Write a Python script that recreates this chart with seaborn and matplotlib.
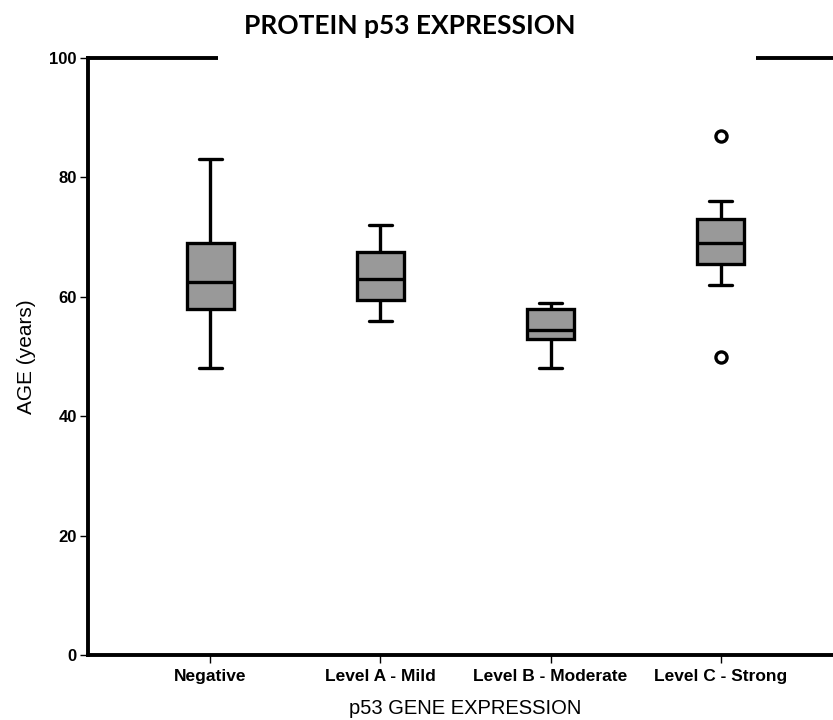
import pandas as pd
import matplotlib
matplotlib.use("Agg")
import matplotlib.pyplot as plt
import seaborn as sns
from matplotlib.patches import Rectangle

# ages per p53 group (chosen so box stats match the picture)
negative = [48, 58, 62.5, 69, 83]
level_a = [56, 59.5, 63, 67.5, 72]
level_b = [48, 53, 54.5, 58, 59]
level_c = [50, 62, 65.5, 67, 69, 71, 73, 76, 87]
groups = ["Negative", "Level A - Mild", "Level B - Moderate", "Level C - Strong"]
yticks = [0, 20, 40, 60, 80, 100]

rows = []
for g, vals in zip(groups, [negative, level_a, level_b, level_c]):
    for v in vals:
        rows.append({"group": g, "age": v})
df = pd.DataFrame(rows)

sns.set_style("white")
plt.rcParams['font.family'] = ['Liberation Sans', 'DejaVu Sans']
plt.rcParams['text.color'] = 'black'
plt.rcParams['axes.labelcolor'] = 'black'
plt.rcParams['xtick.color'] = 'black'
plt.rcParams['ytick.color'] = 'black'

fig = plt.figure(figsize=(8.33, 7.2), dpi=100)
ax = fig.add_axes([88/833, 65/720, (843-88)/833, (655-58)/720])

lw = 2.4
sns.boxplot(data=df, x="group", y="age", order=groups, ax=ax, width=0.28,
            color="#999999", linecolor="black", linewidth=lw, whis=1.5,
            saturation=1, capwidths=0.14,
            flierprops=dict(marker="o", markersize=8, markeredgewidth=2.4,
                            markerfacecolor="white", markeredgecolor="black"),
            medianprops=dict(color="black", linewidth=lw))

ax.set_xlim(-0.72, 3.72)
ax.set_ylim(0, 100)
ax.set_yticks(yticks)
ax.set_yticklabels([str(t) for t in yticks], fontsize=12, fontweight="bold")
ax.set_xticks(range(len(groups)))
ax.set_xticklabels(groups, fontsize=12.5, fontweight="bold")
for s in ax.spines.values():
    s.set_linewidth(2.8)
    s.set_color("black")
ax.tick_params(axis="both", direction="out", length=6, width=1, color="black",
               bottom=True, left=True, pad=2)
ax.tick_params(axis="x", pad=4)
ax.set_xlabel("p53 GENE EXPRESSION", fontsize=14.5, labelpad=11)
ax.set_ylabel("AGE (years)", fontsize=15, labelpad=10)

# white strip over top spine behind title
fig.add_artist(Rectangle((218/833, 652/720), (756-218)/833, 15/720,
                         transform=fig.transFigure, facecolor="white",
                         edgecolor="none", zorder=5))
fig.text(410/833, 1 - 26/720, "PROTEIN p53 EXPRESSION", ha="center", va="center",
         fontsize=19, fontweight="bold", family=["Lato", "DejaVu Sans"], zorder=6)

fig.savefig("out.png", dpi=100)
